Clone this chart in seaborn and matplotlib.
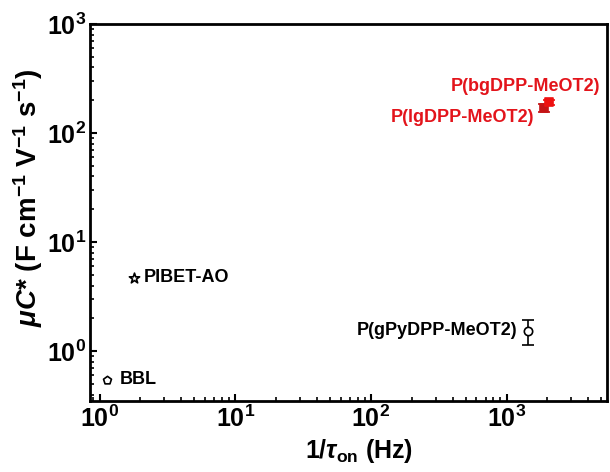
import matplotlib
matplotlib.use("Agg")
import matplotlib.pyplot as plt
import seaborn as sns
import numpy as np
import pandas as pd
from matplotlib.ticker import LogLocator, NullFormatter

# Material data: 1/tau_on (Hz) and muC* (F cm^-1 V^-1 s^-1)
materials = ["BBL", "PIBET-AO", "P(gPyDPP-MeOT2)", "P(lgDPP-MeOT2)", "P(bgDPP-MeOT2)"]
inv_tau = [1.13, 1.8, 1450, 1900, 2050]
muC = [0.55, 4.7, 1.55, 170, 192]
muC_err_low = [0.0, 0.0, 0.42, 14, 10]
muC_err_high = [0.0, 0.0, 0.38, 14, 10]
markers = ["p", "*", "o", "s", "s"]
edge_colors = ["black", "black", "black", "#C41416", "#EE1111"]
face_colors = ["white", "white", "white", "#C41416", "#EE1111"]
label_colors = ["black", "black", "black", "#E3141B", "#E3141B"]

df = pd.DataFrame({"material": materials, "inv_tau": inv_tau, "muC": muC})

sns.set_style("ticks")
plt.rcParams["font.family"] = ["Liberation Sans", "DejaVu Sans"]
plt.rcParams["font.weight"] = "bold"
plt.rcParams["text.color"] = "black"
plt.rcParams["axes.labelcolor"] = "black"
plt.rcParams["xtick.color"] = "black"
plt.rcParams["ytick.color"] = "black"
plt.rcParams["mathtext.fontset"] = "custom"
plt.rcParams["mathtext.rm"] = "Liberation Sans:bold"
plt.rcParams["mathtext.bf"] = "Liberation Sans:bold"
plt.rcParams["mathtext.it"] = "Liberation Sans:bold:italic"
plt.rcParams["mathtext.default"] = "rm"

fig = plt.figure(figsize=(6.10, 4.72), dpi=100)
ax = fig.add_axes([90 / 610, 1 - 401 / 472, (607 - 90) / 610, (401 - 24) / 472])
ax.set_xscale("log")
ax.set_yscale("log")

for i, row in df.iterrows():
    if muC_err_low[i] > 0:
        ax.errorbar(row.inv_tau, row.muC,
                    yerr=[[muC_err_low[i]], [muC_err_high[i]]],
                    fmt="none", ecolor=edge_colors[i], elinewidth=1.2,
                    capsize=4, capthick=1.2, zorder=2)
    sns.scatterplot(x=[row.inv_tau], y=[row.muC], ax=ax, marker=markers[i],
                    s=(60 if markers[i] == "*" else 36),
                    facecolor=face_colors[i], edgecolor=edge_colors[i],
                    linewidth=1.2, zorder=3, legend=False)

# Material labels
offsets = {
    "BBL": (9, 0, "left"),
    "PIBET-AO": (7, 0, "left"),
    "P(gPyDPP-MeOT2)": (-8, 0, "right"),
    "P(lgDPP-MeOT2)": (-7, -7, "right"),
    "P(bgDPP-MeOT2)": (37, 11, "right"),
}
for i, name in enumerate(materials):
    dx, dy, ha = offsets[name]
    ax.annotate(name, (inv_tau[i], muC[i]), xytext=(dx, dy),
                textcoords="offset points", ha=ha, va="center",
                fontsize=13, fontweight="bold", color=label_colors[i])

ax.set_xlim(0.85, 5500)
ax.set_ylim(0.35, 1000)

ax.xaxis.set_major_locator(LogLocator(base=10, numticks=10))
ax.xaxis.set_minor_locator(LogLocator(base=10, subs=np.arange(2, 10), numticks=20))
ax.yaxis.set_major_locator(LogLocator(base=10, numticks=10))
ax.yaxis.set_minor_locator(LogLocator(base=10, subs=np.arange(2, 10), numticks=20))
ax.xaxis.set_minor_formatter(NullFormatter())
ax.yaxis.set_minor_formatter(NullFormatter())

for side in ["left", "bottom", "top", "right"]:
    ax.spines[side].set_visible(True)
    ax.spines[side].set_linewidth(2.0)
    ax.spines[side].set_color("black")

ax.tick_params(axis="both", which="major", direction="in", length=5, width=1.5,
               labelsize=18, pad=3, top=False, right=False)
ax.tick_params(axis="both", which="minor", direction="in", length=3, width=1.2,
               top=False, right=False)

ax.set_xlabel(r"1/$\mathit{\tau}_{\rm on}$ (Hz)", fontsize=18, fontweight="bold")
ax.set_ylabel(r"$\mathit{\mu C}$* (F cm$^{-1}$ V$^{-1}$ s$^{-1}$)", fontsize=20,
              fontweight="bold")
ax.xaxis.set_label_coords(0.52, -0.095)
ax.yaxis.set_label_coords(-0.088, 0.54)

fig.savefig("out.png", dpi=100)
